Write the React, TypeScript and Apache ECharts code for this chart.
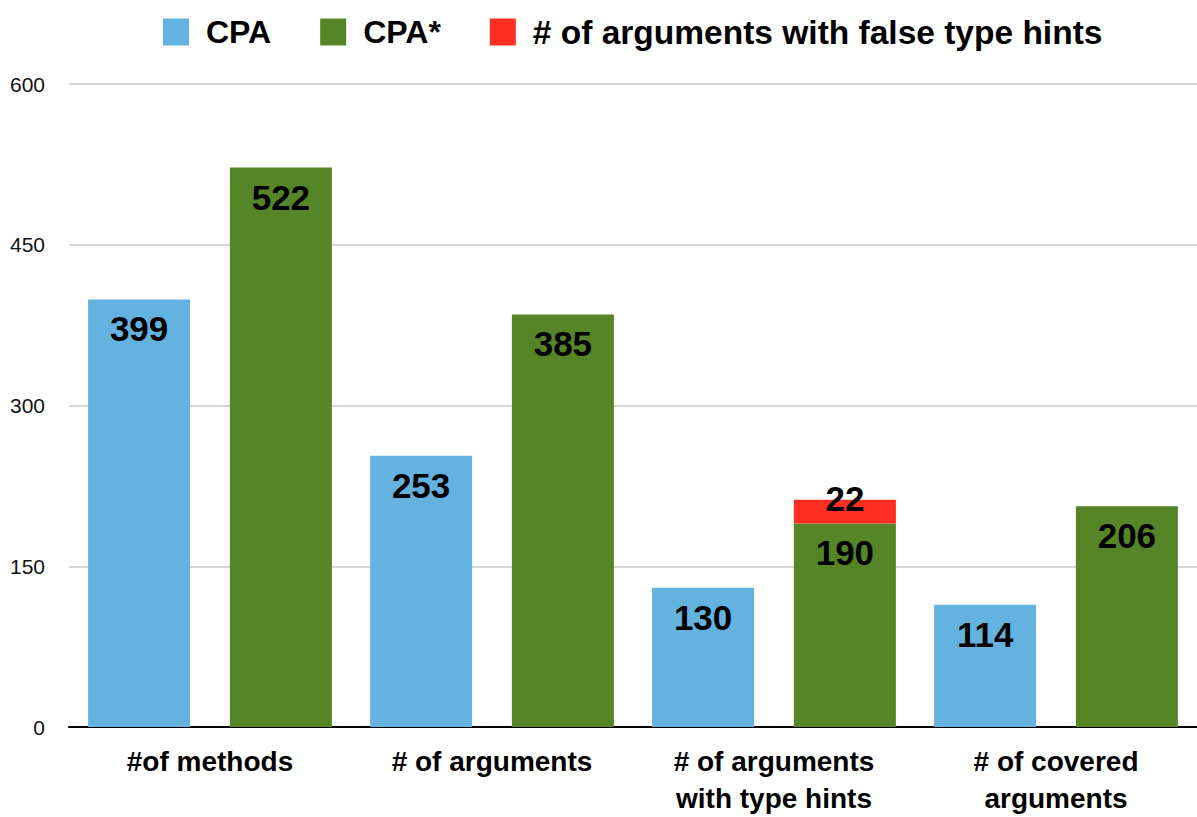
import React, { useEffect, useRef } from "react";
import * as echarts from "echarts";

const categories = ["#of methods", "# of arguments", "# of arguments\nwith type hints", "# of covered\narguments"];
const cpaValues = [399, 253, 130, 114];
const cpaStarValues = [522, 385, 190, 206];
const falseHintValues: (number | null)[] = [null, null, 22, null];
const yTicks = [0, 150, 300, 450, 600];

export default function App() {
  const ref = useRef<HTMLDivElement>(null);
  useEffect(() => {
    document.body.style.margin = "0";
    const chart = echarts.init(ref.current!, null, { renderer: "svg" });
    const font = "'Liberation Sans', Arial, Helvetica, sans-serif";
    const valueLabel = {
      show: true,
      position: "insideTop",
      distance: 12,
      color: "#000",
      fontSize: 35,
      fontWeight: "bold",
      fontFamily: font,
    };
    chart.setOption({
      animation: false,
      backgroundColor: "#fff",
      textStyle: { fontFamily: font },
      legend: {
        left: 158,
        top: 10,
        itemWidth: 26,
        itemHeight: 27,
        itemGap: 49,
        icon: "rect",
        textStyle: { fontSize: 32, fontWeight: "bold", color: "#000", fontFamily: font, padding: [0, 0, 0, 12] },
        data: [
          { name: "CPA" },
          { name: "CPA*" },
          { name: "# of arguments with false type hints", textStyle: { fontSize: 33.5 } },
        ],
      },
      grid: { left: 69, right: -5, top: 84, bottom: 82, containLabel: false },
      xAxis: {
        type: "category",
        data: categories,
        axisTick: { show: false },
        axisLine: { lineStyle: { color: "#000", width: 2 } },
        axisLabel: {
          color: "#000",
          fontSize: 28,
          fontWeight: "bold",
          fontFamily: font,
          margin: 16,
          lineHeight: 37,
          interval: 0,
        },
      },
      yAxis: {
        type: "value",
        min: yTicks[0],
        max: yTicks[yTicks.length - 1],
        interval: 150,
        axisLine: { show: false },
        axisTick: { show: false },
        axisLabel: { color: "#111", fontSize: 21, fontFamily: font, margin: 24 },
        splitLine: { lineStyle: { color: "#c8c8c8", width: 1.5 } },
      },
      series: [
        {
          name: "CPA",
          type: "bar",
          data: cpaValues,
          barWidth: 102,
          barGap: "39%",
          itemStyle: { color: "#63b2df" },
          label: valueLabel,
        },
        {
          name: "CPA*",
          type: "bar",
          stack: "star",
          data: cpaStarValues,
          barWidth: 102,
          itemStyle: { color: "#568527" },
          label: valueLabel,
        },
        {
          name: "# of arguments with false type hints",
          type: "bar",
          stack: "star",
          data: falseHintValues,
          barWidth: 102,
          itemStyle: { color: "#ff2d22" },
          label: { ...valueLabel, position: "top", distance: -16 },
        },
      ],
    });
    return () => chart.dispose();
  }, []);
  return <div ref={ref} style={{ width: 1197, height: 817 }} />;
}
